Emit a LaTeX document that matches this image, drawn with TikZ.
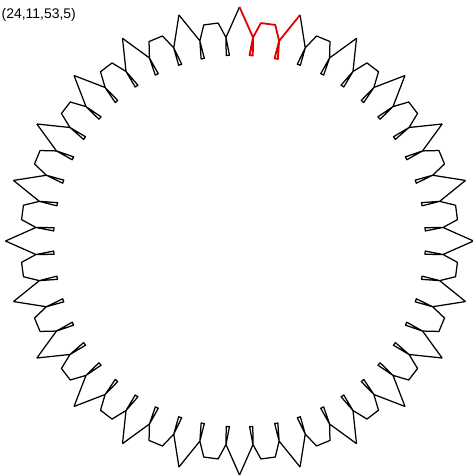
\documentclass[tikz,border=0pt]{standalone}
\usepackage{fontspec}
\setmainfont{Liberation Sans}
\definecolor{leadred}{RGB}{225, 0, 0}
\usepackage{tikz}
\newcommand{\toothrun}{(90:234) -- (86.2:204) -- (86.9:186) -- (85.9:186) -- (86.2:204)
  -- (84.4:219) -- (80.6:219) -- (78.8:204) -- (79.1:186) -- (78.1:186) -- (78.8:204) -- (75:234)}

\begin{document}
\begin{tikzpicture}[x=1bp, y=1bp,
  tooth/.style={draw=black, line width=1.25bp, line join=round},
  lead/.style={tooth, draw=leadred, line width=1.8bp}
]
  \useasboundingbox (0,0) rectangle (473,476);
  \node[anchor=north west, inner sep=0pt, font=\fontsize{14}{16}\selectfont] (title) at (1.5,468) {(24,11,53,5)};
  \begin{scope}[shift={(239.5,235)}]
    \foreach \k in {1,...,23}
      \draw[tooth, rotate=-15*\k] \toothrun;
    \draw[lead] \toothrun;
  \end{scope}
\end{tikzpicture}
\end{document}
